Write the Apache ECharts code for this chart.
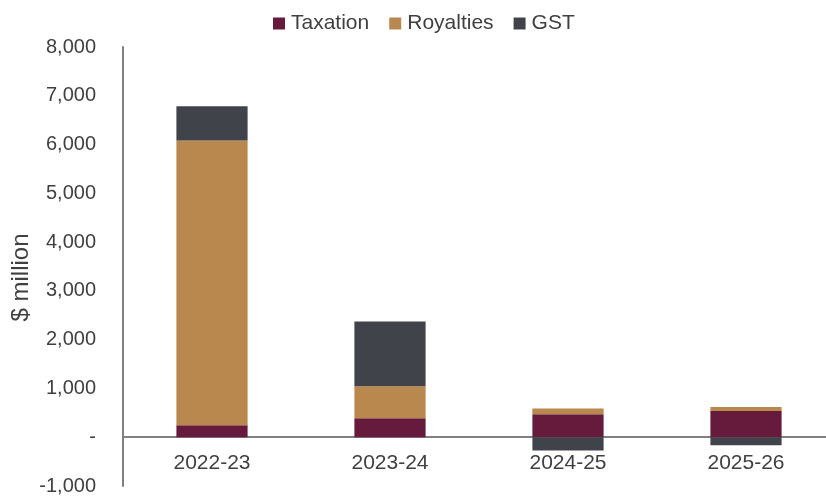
<!DOCTYPE html>
<html>
<head>
<meta charset="utf-8">
<script src="https://cdn.jsdelivr.net/npm/echarts@6/dist/echarts.min.js"></script>
<style>html,body{margin:0;padding:0;background:#fff}#c{width:826px;height:498px}</style>
</head>
<body>
<div id="c"></div>
<script>
var categories = ['2022-23', '2023-24', '2024-25', '2025-26'];
var taxation = [245, 390, 470, 540];
var royalties = [5840, 655, 120, 80];
var gst = [700, 1330, -270, -165];
var yTicks = [-1000, 0, 1000, 2000, 3000, 4000, 5000, 6000, 7000, 8000];

var chart = echarts.init(document.getElementById('c'));
var font = 'Liberation Sans, Arial, sans-serif';
function ser(name, data, color) {
  return { name: name, type: 'bar', stack: 'total', data: data, barWidth: '40%',
    itemStyle: { color: color }, emphasis: { disabled: true } };
}
chart.setOption({
  animation: false,
  textStyle: { fontFamily: font },
  legend: {
    top: 8, left: 268,
    icon: 'rect', itemWidth: 12, itemHeight: 12, itemGap: 20,
    textStyle: { fontFamily: font, fontSize: 21, color: '#404040', padding: [0, 0, 0, 1] },
    data: ['Taxation', 'Royalties', 'GST']
  },
  grid: { left: 123, top: 47, width: 712, bottom: 12, containLabel: false, outerBoundsMode: 'none' },
  xAxis: {
    type: 'category', data: categories,
    axisLine: { onZero: true, lineStyle: { color: '#808080', width: 2 } },
    axisTick: { show: false },
    axisLabel: { fontFamily: font, fontSize: 21, color: '#404040', margin: -33 }
  },
  yAxis: {
    type: 'value', min: yTicks[0], max: yTicks[yTicks.length - 1], interval: 1000,
    name: '$ million', nameLocation: 'middle', nameGap: 90, nameMoveOverlap: false,
    nameTextStyle: { fontFamily: font, fontSize: 24, color: '#404040', padding: [0, 0, 0, -22] },
    axisLine: { show: true, lineStyle: { color: '#808080', width: 2 } },
    axisTick: { show: false },
    splitLine: { show: false },
    axisLabel: {
      fontFamily: font, fontSize: 20, color: '#404040', margin: 27,
      formatter: function (v) { return v === 0 ? '-' : v.toLocaleString('en-US'); }
    }
  },
  series: [
    ser('Taxation', taxation, '#661A3C'),
    ser('Royalties', royalties, '#B8884F'),
    ser('GST', gst, '#40444A')
  ]
});
</script>
</body>
</html>
